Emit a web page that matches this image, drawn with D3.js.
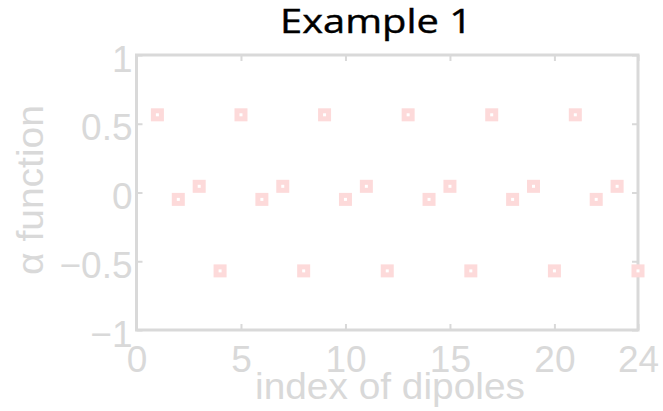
<!DOCTYPE html>
<html>
<head>
<meta charset="utf-8">
<script src="https://cdn.jsdelivr.net/npm/d3@7"></script>
<style>
  body { margin: 0; background: #fff; }
  svg { display: block; }
</style>
</head>
<body>
<div id="chart"></div>
<script>
// data
const dipoleIndex = [1, 2, 3, 4, 5, 6, 7, 8, 9, 10, 11, 12, 13, 14, 15, 16, 17, 18, 19, 20, 21, 22, 23, 24];
const alphaValues = [0.565, -0.05, 0.045, -0.57, 0.565, -0.05, 0.045, -0.57,
                     0.565, -0.05, 0.045, -0.57, 0.565, -0.05, 0.045, -0.57,
                     0.565, -0.05, 0.045, -0.57, 0.565, -0.05, 0.045, -0.57];
const xTicks = [0, 5, 10, 15, 20, 24];
const yTicks = [-1, -0.5, 0, 0.5, 1];
const yTickLabels = ["\u22121", "\u22120.5", "0", "0.5", "1"];

const width = 663, height = 411;
const margin = {top: 55, right: 25, bottom: 81, left: 136.5};
const gray = "#d9d9d9";

const svg = d3.select("#chart").append("svg")
    .attr("width", width)
    .attr("height", height);

const x = d3.scaleLinear().domain([0, 24]).range([margin.left, width - margin.right]);
const y = d3.scaleLinear().domain([-1, 1]).range([height - margin.bottom, margin.top]);

// title
svg.append("text")
    .attr("x", 376)
    .attr("y", 33)
    .attr("text-anchor", "middle")
    .attr("textLength", 192)
    .attr("lengthAdjust", "spacingAndGlyphs")
    .style("font-family", "'Open Sans', sans-serif")
    .style("font-size", "32px")
    .style("fill", "#000")
    .style("stroke", "#000")
    .style("stroke-width", 0.4)
    .text("Example 1");

// frame
svg.append("rect")
    .attr("x", x(0))
    .attr("y", y(1))
    .attr("width", x(24) - x(0))
    .attr("height", y(-1) - y(1))
    .attr("fill", "none")
    .attr("stroke", gray)
    .attr("stroke-width", 3);

const tickLen = 6;

const xAxisBottom = d3.axisBottom(x).tickValues(xTicks).tickSize(-tickLen).tickPadding(8).tickFormat(d3.format("d"));
const xAxisTop = d3.axisTop(x).tickValues(xTicks).tickSize(-tickLen).tickFormat("");
const yAxisLeft = d3.axisLeft(y).tickValues(yTicks).tickSize(-tickLen).tickPadding(6)
    .tickFormat((d, i) => yTickLabels[i]);
const yAxisRight = d3.axisRight(y).tickValues(yTicks).tickSize(-tickLen).tickFormat("");

const gx = svg.append("g")
    .attr("transform", `translate(0,${y(-1)})`)
    .call(xAxisBottom);
svg.append("g")
    .attr("transform", `translate(0,${y(1)})`)
    .call(xAxisTop);
const gy = svg.append("g")
    .attr("transform", `translate(${x(0)},0)`)
    .call(yAxisLeft);
svg.append("g")
    .attr("transform", `translate(${x(24)},0)`)
    .call(yAxisRight);

svg.selectAll(".domain").remove();
svg.selectAll(".tick line").attr("stroke", gray).attr("stroke-width", 2);
svg.selectAll(".tick text")
    .style("font-family", "'Liberation Sans', Arial, sans-serif")
    .style("font-size", "37px")
    .attr("fill", gray);

gx.selectAll(".tick text").attr("y", 42).attr("dy", null);
gy.selectAll(".tick text").attr("x", -4).attr("dy", "16px");

// axis labels
svg.append("text")
    .attr("x", 390)
    .attr("y", 399)
    .attr("text-anchor", "middle")
    .attr("textLength", 270)
    .attr("lengthAdjust", "spacingAndGlyphs")
    .style("font-family", "'Liberation Sans', Arial, sans-serif")
    .style("font-size", "37px")
    .style("fill", gray)
    .text("index of dipoles");

svg.append("text")
    .attr("transform", "translate(43,190) rotate(-90)")
    .attr("text-anchor", "middle")
    .attr("textLength", 170)
    .attr("lengthAdjust", "spacingAndGlyphs")
    .style("font-family", "'Liberation Sans', Arial, sans-serif")
    .style("font-size", "37px")
    .style("fill", gray)
    .text("\u03b1 function");

// markers
const pts = svg.append("g")
    .selectAll("g")
    .data(dipoleIndex.map((d, i) => ({i: d, v: alphaValues[i]})))
    .enter().append("g")
    .attr("transform", d => `translate(${x(d.i)},${y(d.v)})`);

pts.append("rect")
    .attr("x", -6.5).attr("y", -6.5)
    .attr("width", 13).attr("height", 13)
    .attr("fill", "#fddada");

pts.append("rect")
    .attr("x", -1.5).attr("y", -1.5)
    .attr("width", 3).attr("height", 3)
    .attr("fill", "#fff");
</script>
</body>
</html>
